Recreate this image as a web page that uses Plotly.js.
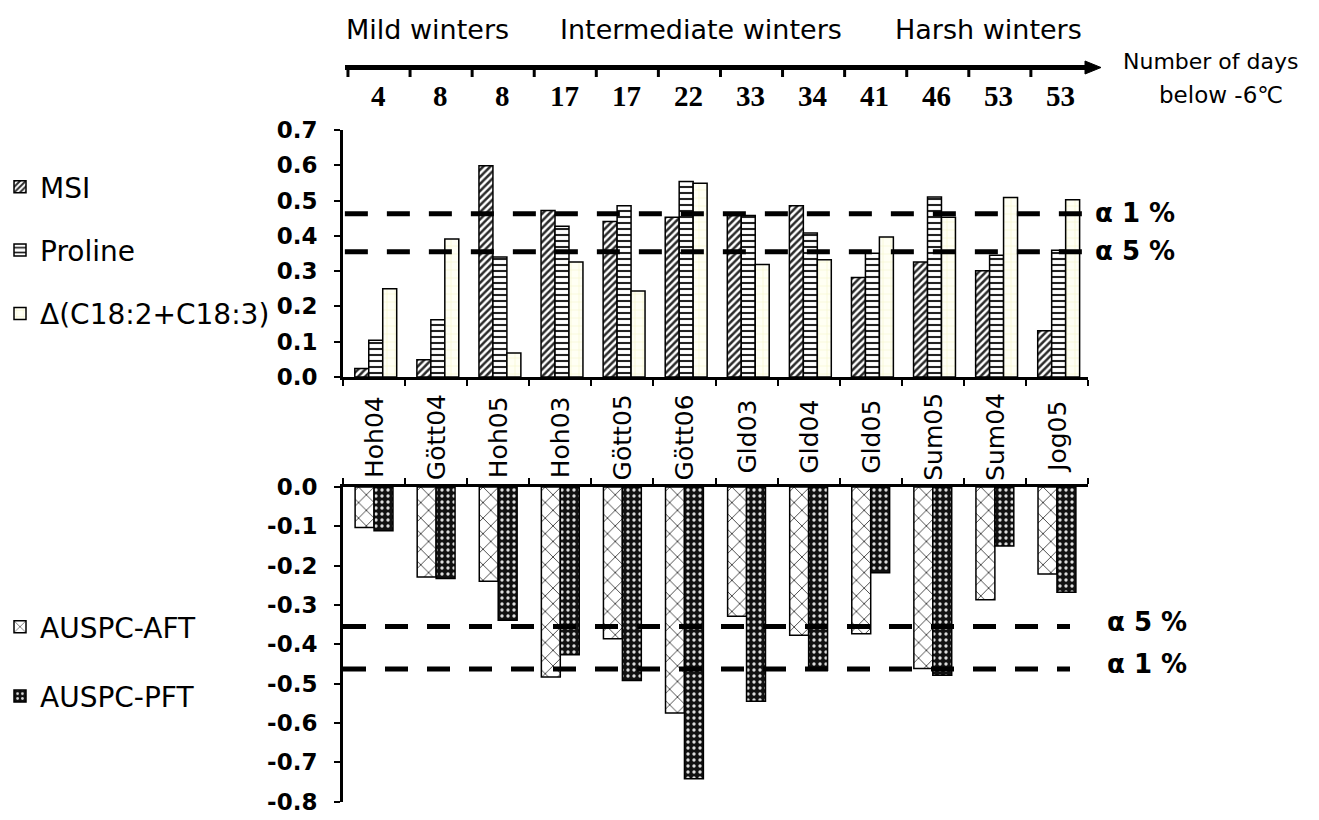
<!DOCTYPE html>
<html>
<head>
<meta charset="utf-8">
<script src="https://cdn.plot.ly/plotly-3.0.1.min.js"></script>
<style>
  html, body { margin: 0; padding: 0; background: #ffffff; }
  #chart { width: 1319px; height: 820px; }
</style>
</head>
<body>
<div id="chart"></div>
<script>
// Sites / years, ordered by the number of days below -6 °C
const categories = ['Hoh04', 'Gött04', 'Hoh05', 'Hoh03', 'Gött05', 'Gött06',
                    'Gld03', 'Gld04', 'Gld05', 'Sum05', 'Sum04', 'Jog05'];
const daysBelow = [4, 8, 8, 17, 17, 22, 33, 34, 41, 46, 53, 53];

// Correlation coefficients, upper panel
const msi      = [0.024, 0.049, 0.599, 0.472, 0.441, 0.453, 0.458, 0.485, 0.282, 0.326, 0.301, 0.131];
const proline  = [0.104, 0.162, 0.340, 0.427, 0.485, 0.554, 0.458, 0.408, 0.351, 0.510, 0.345, 0.359];
const deltaFA  = [0.250, 0.391, 0.068, 0.326, 0.244, 0.549, 0.319, 0.332, 0.397, 0.453, 0.509, 0.502];

// Correlation coefficients, lower panel
const auspcAFT = [-0.103, -0.229, -0.240, -0.483, -0.386, -0.575, -0.329, -0.377, -0.373, -0.462, -0.287, -0.221];
const auspcPFT = [-0.111, -0.233, -0.339, -0.427, -0.492, -0.742, -0.545, -0.466, -0.218, -0.479, -0.150, -0.268];

// Significance thresholds
const alphaLabels = ['α 1 %', 'α 5 %'];
const alphaValues = [0.463, 0.355];

// Group headings above the day scale
const winterGroups = ['Mild winters', 'Intermediate winters', 'Harsh winters'];

// Axis ticks
const upperTicks = [0, 0.1, 0.2, 0.3, 0.4, 0.5, 0.6, 0.7];
const upperTickText = ['0.0', '0.1', '0.2', '0.3', '0.4', '0.5', '0.6', '0.7'];
const lowerTicks = [0, -0.1, -0.2, -0.3, -0.4, -0.5, -0.6, -0.7, -0.8];
const lowerTickText = ['0.0', '-0.1', '-0.2', '-0.3', '-0.4', '-0.5', '-0.6', '-0.7', '-0.8'];

// ---- layout helpers (pixel -> paper) ----
const W = 1319, H = 820;
const px = v => v / W;
const py = v => (H - v) / H;

const SANS = 'DejaVu Sans, Arial, sans-serif';
const SERIF = 'Liberation Serif, Times New Roman, serif';
const outline = { color: '#000000', width: 1.5 };

function bar(name, y, opts) {
  return Object.assign({
    type: 'bar', name: name, x: categories, y: y,
    hoverinfo: 'x+y+name',
    marker: Object.assign({ line: outline }, opts.marker)
  }, opts.trace);
}

const traces = [
  bar('MSI', msi, {
    trace: { xaxis: 'x', yaxis: 'y', width: 0.225, offset: -0.31, legend: 'legend', legendgroup: 'a' },
    marker: { color: '#ffffff', pattern: { shape: '/', fgcolor: '#2b2b2b', bgcolor: '#ffffff', size: 5, solidity: 0.5 } }
  }),
  bar('Proline', proline, {
    trace: { xaxis: 'x', yaxis: 'y', width: 0.225, offset: -0.085, legend: 'legend', legendgroup: 'b' },
    marker: { color: '#ffffff', pattern: { shape: '-', fgcolor: '#222222', bgcolor: '#ffffff', size: 6, solidity: 0.35 } }
  }),
  bar('Δ(C18:2+C18:3)', deltaFA, {
    trace: { xaxis: 'x', yaxis: 'y', width: 0.225, offset: 0.14, legend: 'legend', legendgroup: 'c' },
    marker: { color: '#fffff4', pattern: { shape: '+', fgcolor: '#eeeebb', bgcolor: '#fffff4', size: 8, solidity: 0.1 } }
  }),
  bar('AUSPC-AFT', auspcAFT, {
    trace: { xaxis: 'x2', yaxis: 'y2', width: 0.305, offset: -0.305, legend: 'legend2', legendgroup: 'd' },
    marker: { color: '#ffffff', pattern: { shape: 'x', fgcolor: '#222222', bgcolor: '#ffffff', size: 11, solidity: 0.14 } }
  }),
  bar('AUSPC-PFT', auspcPFT, {
    trace: { xaxis: 'x2', yaxis: 'y2', width: 0.305, offset: 0.0, legend: 'legend2', legendgroup: 'e' },
    marker: { color: '#111111', pattern: { shape: '.', fgcolor: '#dddddd', bgcolor: '#111111', size: 6, solidity: 0.25 } }
  })
];

const shapes = [];
const annotations = [];

// Threshold lines, upper panel (positive) and lower panel (negative)
alphaValues.forEach((v, i) => {
  shapes.push({ type: 'line', layer: 'above', xref: 'x', yref: 'y', x0: -0.47, x1: 11.5, y0: v, y1: v,
                line: { color: '#000', width: 5, dash: '23px,19px' } });
  shapes.push({ type: 'line', layer: 'above', xref: 'x2', yref: 'y2', x0: -0.5, x1: 11.21, y0: -v, y1: -v,
                line: { color: '#000', width: 5, dash: '23px,19px' } });
  annotations.push({ xref: 'paper', yref: 'y', x: px(1093), y: v, yshift: 1, xanchor: 'left', yanchor: 'middle',
                     showarrow: false, text: alphaLabels[i],
                     font: { family: SANS, size: 26, weight: 'bold', color: '#000' } });
  annotations.push({ xref: 'paper', yref: 'y2', x: px(1105), y: -v, yshift: 5, xanchor: 'left', yanchor: 'middle',
                     showarrow: false, text: alphaLabels[i],
                     font: { family: SANS, size: 26, weight: 'bold', color: '#000' } });
});

// Day scale with arrow
shapes.push({ type: 'line', xref: 'paper', yref: 'paper', x0: px(345), x1: px(1090), y0: py(67.5), y1: py(67.5),
              line: { color: '#000', width: 5 } });
shapes.push({ type: 'path', xref: 'paper', yref: 'paper',
              path: `M${px(1085)},${py(61)} L${px(1101)},${py(67.5)} L${px(1085)},${py(74)} Z`,
              fillcolor: '#000', line: { color: '#000', width: 1 } });
categories.forEach((c, i) => {
  shapes.push({ type: 'line', xref: 'x', yref: 'paper', x0: i - 0.5 + 0.08, x1: i - 0.5 + 0.08,
                y0: py(67.5), y1: py(77), line: { color: '#000', width: 3 } });
  annotations.push({ xref: 'x', yref: 'paper', x: c, xshift: 4, y: py(96), xanchor: 'center', yanchor: 'middle',
                     showarrow: false, text: String(daysBelow[i]),
                     font: { family: SERIF, size: 29, weight: 'bold', color: '#000' } });
  annotations.push({ xref: 'x', yref: 'paper', x: c, y: py(437), textangle: -90, xanchor: 'center', yanchor: 'middle',
                     showarrow: false, text: c, font: { family: SANS, size: 25, color: '#000' } });
});

const groupCentres = [428, 701, 988];
winterGroups.forEach((g, i) => {
  annotations.push({ xref: 'paper', yref: 'paper', x: px(groupCentres[i]), y: py(29),
                     xanchor: 'center', yanchor: 'middle', showarrow: false,
                     text: g, font: { family: SANS, size: 27, color: '#000' } });
});
annotations.push({ xref: 'paper', yref: 'paper', x: px(1211), y: py(62), xanchor: 'center', yanchor: 'middle',
                   showarrow: false, text: 'Number of days', font: { family: SANS, size: 22, color: '#000' } });
annotations.push({ xref: 'paper', yref: 'paper', x: px(1221), y: py(95), xanchor: 'center', yanchor: 'middle',
                   showarrow: false, text: 'below -6℃', font: { family: SANS, size: 23, color: '#000' } });

const xCommon = {
  type: 'category', range: [-0.5, 11.5], showgrid: false, zeroline: false,
  showline: true, linecolor: '#000', linewidth: 3,
  ticks: 'outside', tickson: 'boundaries', ticklen: 6, tickwidth: 2, tickcolor: '#000',
  showticklabels: false, fixedrange: true,
  domain: [px(343), px(1088)]
};
const yCommon = {
  showgrid: false, zeroline: false, showline: true, linecolor: '#000', linewidth: 3,
  ticks: 'outside', ticklen: 6, tickwidth: 2, tickcolor: '#000', ticklabelstandoff: 12,
  tickfont: { family: SANS, size: 23, weight: 'bold', color: '#000' }, fixedrange: true
};

const layout = {
  width: W, height: H,
  margin: { l: 0, r: 0, t: 0, b: 0, pad: 0 },
  paper_bgcolor: '#ffffff', plot_bgcolor: 'rgba(0,0,0,0)',
  barmode: 'overlay',
  showlegend: true,
  xaxis: Object.assign({}, xCommon, { anchor: 'y', side: 'bottom' }),
  yaxis: Object.assign({}, yCommon, { anchor: 'x', domain: [py(377), py(130)], range: [0, 0.7],
                                      tickvals: upperTicks, ticktext: upperTickText }),
  xaxis2: Object.assign({}, xCommon, { anchor: 'y2', side: 'top' }),
  yaxis2: Object.assign({}, yCommon, { anchor: 'x2', domain: [py(801.5), py(487)], range: [-0.8, 0],
                                       tickvals: lowerTicks, ticktext: lowerTickText }),
  legend: { x: 0, xanchor: 'left', y: py(162), yanchor: 'top', bgcolor: 'rgba(0,0,0,0)',
            font: { family: SANS, size: 28, color: '#000' }, tracegroupgap: 24, itemwidth: 30 },
  legend2: { x: 0, xanchor: 'left', y: py(602), yanchor: 'top', bgcolor: 'rgba(0,0,0,0)',
             font: { family: SANS, size: 28, color: '#000' }, tracegroupgap: 30, itemwidth: 30 },
  shapes: shapes,
  annotations: annotations
};

Plotly.newPlot('chart', traces, layout, { displayModeBar: false, staticPlot: true });
</script>
</body>
</html>
